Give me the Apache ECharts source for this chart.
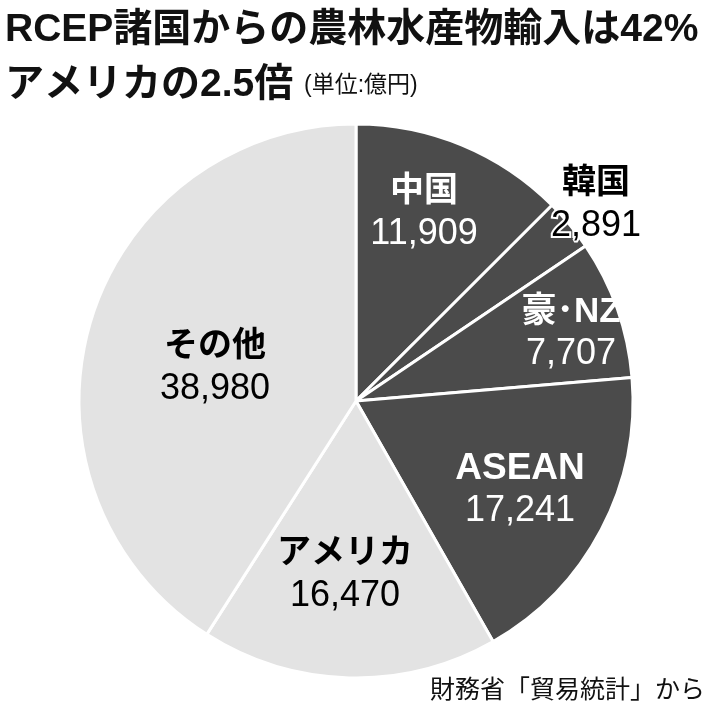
<!DOCTYPE html>
<html>
<head>
<meta charset="utf-8">
<script src="https://cdn.jsdelivr.net/npm/echarts@6/dist/echarts.min.js"></script>
<style>
html,body{margin:0;padding:0;background:#fff;}
#c{width:710px;height:710px;}
</style>
</head>
<body>
<div id="c"></div>
<script>
const categories = ['中国', '韓国', '豪･NZ', 'ASEAN', 'アメリカ', 'その他'];
const values = [11909, 2891, 7707, 17241, 16470, 38980];
const sliceColors = ['#4b4b4b', '#4b4b4b', '#4b4b4b', '#4b4b4b', '#e3e3e3', '#e3e3e3'];
const labelColors = ['#fff', '#000', '#fff', '#fff', '#000', '#000'];
const nameSizes = [34, 34, 35, 37, 34, 34];
const labelPos = [[424, 213], [596, 205], [571, 333], [520, 490], [345, 575], [215, 368]];
const titleLine1 = 'RCEP諸国からの農林水産物輸入は42%';
const titleLine2 = 'アメリカの2.5倍';
const unitText = '(単位:億円)';
const sourceText = '財務省「貿易統計」から';

const chart = echarts.init(document.getElementById('c'), null, {renderer: 'canvas'});
const MIX = '"Liberation Sans", "Noto Sans CJK JP", sans-serif';

const data = categories.map((n, i) => {
  const isKorea = i === 1;
  const border = isKorea ? {textBorderColor: '#fff', textBorderWidth: 4} : {};
  return {
    name: n,
    value: values[i],
    itemStyle: {color: sliceColors[i]},
    label: {
      color: labelColors[i],
      rich: {
        n: Object.assign({fontFamily: MIX, fontWeight: 'bold', fontSize: nameSizes[i], lineHeight: 42, color: labelColors[i]}, border),
        v: Object.assign({fontFamily: MIX, fontSize: 36, lineHeight: 42, color: labelColors[i]}, border)
      }
    }
  };
});

chart.setOption({
  animation: false,
  backgroundColor: '#fff',
  title: [{
    text: titleLine1 + '\n' + titleLine2 + ' {s|' + unitText + '}',
    left: 0, top: -2,
    textStyle: {
      fontFamily: MIX, fontWeight: 'bold', fontSize: 39, lineHeight: 55, color: '#111',
      rich: {s: {fontFamily: MIX, fontWeight: 'normal', fontSize: 23, color: '#111', lineHeight: 55}}
    }
  }, {
    text: sourceText,
    right: 0, top: 674,
    textStyle: {fontFamily: MIX, fontWeight: 'normal', fontSize: 25, color: '#111'}
  }],
  series: [{
    type: 'pie',
    center: [356, 401],
    radius: [0, 277],
    startAngle: 90,
    clockwise: true,
    avoidLabelOverlap: false,
    emphasis: {disabled: true},
    itemStyle: {borderColor: '#fff', borderWidth: 3},
    label: {
      show: true,
      position: 'inside',
      align: 'center',
      verticalAlign: 'middle',
      formatter: p => '{n|' + p.name + '}\n{v|' + p.value.toLocaleString('en-US') + '}'
    },
    labelLine: {show: false},
    labelLayout: p => ({x: labelPos[p.dataIndex][0], y: labelPos[p.dataIndex][1], align: 'center', verticalAlign: 'middle'}),
    data: data
  }]
});
</script>
</body>
</html>
